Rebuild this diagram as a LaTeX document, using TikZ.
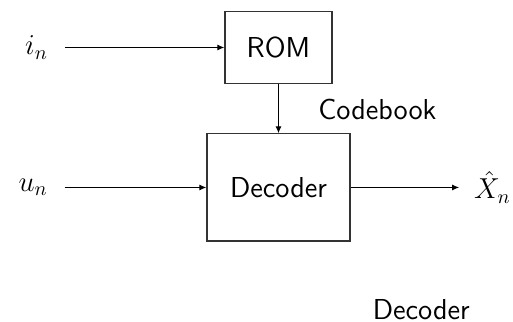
\documentclass[tikz,border=0pt]{standalone}
\usepackage{amsmath}
\usetikzlibrary{arrows.meta}

\tikzset{
  blk/.style={draw=black!80, line width=0.6pt, inner sep=0pt},
  sig/.style={-{Latex[length=3.5pt,width=3pt]}, line width=0.5pt},
}

\begin{document}
\begin{tikzpicture}[font=\Large\sffamily]
\useasboundingbox (0,0) rectangle (9,5.649);

%blocks
\node[blk, minimum width=1.88cm, minimum height=1.25cm] (rom) at (4.886,4.816) {ROM};
\node[blk, minimum width=2.51cm, minimum height=1.88cm] (dec) at (4.886,2.36) {Decoder};

%inputs
\node (in) at (0.64,4.816) {$i_n$};
\node (un) at (0.58,2.36) {$u_n$};
\draw [sig, shorten <=5pt] (in) -- (rom);
\draw [sig, shorten <=5pt] (un) -- (dec);

%codebook
\draw [sig] (rom) -- (dec);
\node[anchor=base] (cb) at (6.62,3.544) {Codebook};

%output
\node (xh) at (8.64,2.36) {$\hat{X}_n$};
\draw [sig, shorten >=4pt] (dec) -- (xh);

%caption
\node[anchor=base] (cap) at (7.39,0.05) {Decoder};
\end{tikzpicture}
\end{document}
